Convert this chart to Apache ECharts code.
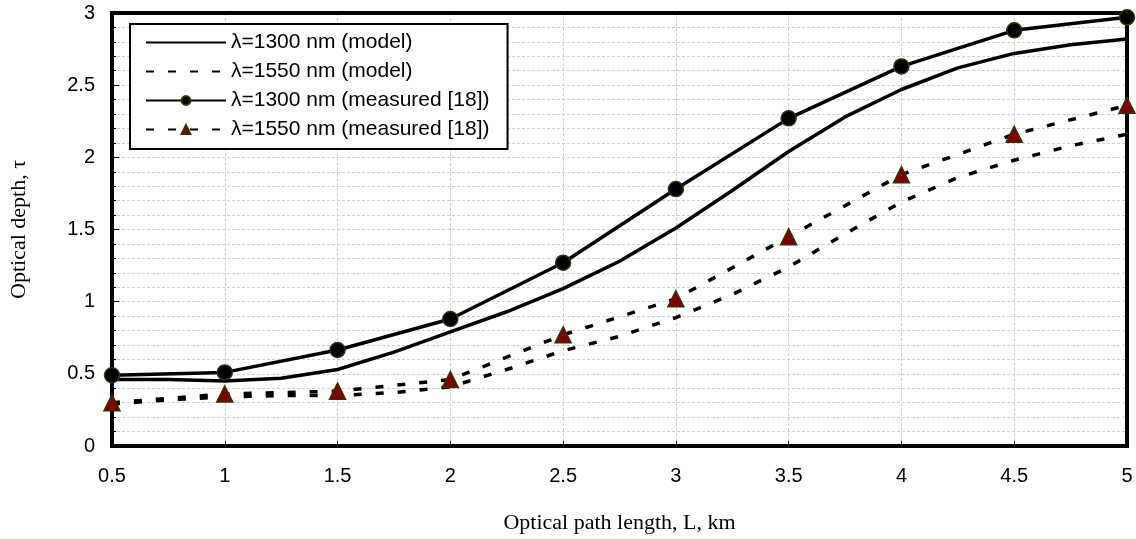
<!DOCTYPE html>
<html>
<head>
<meta charset="utf-8">
<script src="https://cdn.jsdelivr.net/npm/echarts@6/dist/echarts.min.js"></script>
<style>
  html, body { margin: 0; padding: 0; background: #fff; }
  #chart { width: 1136px; height: 539px; }
</style>
</head>
<body>
<div id="chart"></div>
<script>
// optical path length, km
const xModel = [0.5, 0.75, 1, 1.25, 1.5, 1.75, 2, 2.25, 2.5, 2.75, 3, 3.25, 3.5, 3.75, 4, 4.25, 4.5, 4.75, 5];
const tau1300Model = [0.46, 0.46, 0.45, 0.47, 0.53, 0.65, 0.79, 0.93, 1.09, 1.28, 1.51, 1.77, 2.04, 2.28, 2.47, 2.62, 2.72, 2.78, 2.82];
const tau1550Model = [0.29, 0.32, 0.34, 0.35, 0.35, 0.37, 0.41, 0.53, 0.66, 0.76, 0.89, 1.05, 1.24, 1.47, 1.69, 1.86, 1.98, 2.08, 2.16];

const xMeasured = [0.5, 1, 1.5, 2, 2.5, 3, 3.5, 4, 4.5, 5];
const tau1300Meas = [0.49, 0.51, 0.665, 0.88, 1.27, 1.78, 2.27, 2.63, 2.88, 2.97];
const tau1550Meas = [0.30, 0.36, 0.38, 0.46, 0.77, 1.02, 1.45, 1.88, 2.16, 2.36];

const seriesNames = [
    'λ=1300 nm (model)',
    'λ=1550 nm (model)',
    'λ=1300 nm (measured [18])',
    'λ=1550 nm (measured [18])'
];

const pairs = (xs, ys) => xs.map((x, i) => [x, ys[i]]);

const dash = [8, 14];
const gridLine = { color: '#cfcfcf', width: 1, type: [3, 2] };

function frame() {
    return { show: true, onZero: false, lineStyle: { color: '#000', width: 4 } };
}

const chart = echarts.init(document.getElementById('chart'));

const option = {
    animation: false,
    backgroundColor: '#fff',
    grid: {
        left: 112, right: 9, top: 13, bottom: 93,
        show: true, borderColor: '#000', borderWidth: 4, backgroundColor: 'transparent'
    },
    legend: {
        orient: 'vertical',
        left: 130, top: 24,
        padding: [8, 18, 9, 15],
        backgroundColor: '#fff',
        borderColor: '#000', borderWidth: 2,
        itemWidth: 80, itemHeight: 11, itemGap: 8,
        textStyle: { fontFamily: 'Liberation Sans', fontSize: 21, color: '#000', lineHeight: 20 },
        data: [
            { name: seriesNames[0], itemStyle: { opacity: 0 } },
            { name: seriesNames[1], itemStyle: { opacity: 0 } },
            { name: seriesNames[2] },
            { name: seriesNames[3] }
        ]
    },
    xAxis: [{
        type: 'value',
        min: 0.5, max: 5, interval: 0.5,
        name: 'Optical path length, L, km',
        nameLocation: 'middle', nameGap: 66,
        nameTextStyle: { fontFamily: 'Liberation Serif', fontSize: 22, color: '#000' },
        axisLine: frame(),
        axisTick: { inside: true, length: 5, lineStyle: { color: '#000' } },
        axisLabel: { margin: 20, fontFamily: 'Liberation Sans', fontSize: 20, color: '#000' },
        splitLine: { show: true, lineStyle: gridLine }
    }, {
        type: 'value', position: 'top',
        min: 0.5, max: 5, interval: 0.5,
        axisLine: frame(),
        axisTick: { show: false }, axisLabel: { show: false }, splitLine: { show: false }
    }],
    yAxis: [{
        type: 'value',
        min: 0, max: 3, interval: 0.5,
        name: 'Optical depth, τ',
        nameLocation: 'middle', nameGap: 82,
        nameTextStyle: { fontFamily: 'Liberation Serif', fontSize: 22, color: '#000' },
        axisLine: frame(),
        axisTick: { show: true, inside: true, length: 7, lineStyle: { color: '#000' } },
        minorTick: { show: true, splitNumber: 5, length: 4, lineStyle: { color: '#000' } },
        axisLabel: { margin: 17, fontFamily: 'Liberation Sans', fontSize: 20, color: '#000' },
        splitLine: { show: true, lineStyle: gridLine },
        minorSplitLine: { show: true, lineStyle: gridLine }
    }, {
        type: 'value', position: 'right',
        min: 0, max: 3, interval: 0.5,
        axisLine: frame(),
        axisTick: { show: false }, axisLabel: { show: false }, splitLine: { show: false }
    }],
    series: [
        {
            name: seriesNames[0], type: 'line',
            data: pairs(xModel, tau1300Model),
            symbol: 'none',
            lineStyle: { color: '#000', width: 3.5 },
            itemStyle: { color: '#000' },
            z: 2
        },
        {
            name: seriesNames[1], type: 'line',
            data: pairs(xModel, tau1550Model),
            symbol: 'none',
            lineStyle: { color: '#000', width: 3.5, type: dash },
            itemStyle: { color: '#000' },
            z: 2
        },
        {
            name: seriesNames[2], type: 'line',
            data: pairs(xMeasured, tau1300Meas),
            symbol: 'circle', symbolSize: 15,
            lineStyle: { color: '#000', width: 3.5 },
            itemStyle: { color: '#000', borderColor: '#333300', borderWidth: 1.5 },
            z: 3
        },
        {
            name: seriesNames[3], type: 'line',
            data: pairs(xMeasured, tau1550Meas),
            symbol: 'triangle', symbolSize: 16,
            lineStyle: { color: '#000', width: 3.5, type: dash },
            itemStyle: { color: '#800000', borderColor: '#333300', borderWidth: 1.5 },
            z: 3
        }
    ]
};

chart.setOption(option);
</script>
</body>
</html>
